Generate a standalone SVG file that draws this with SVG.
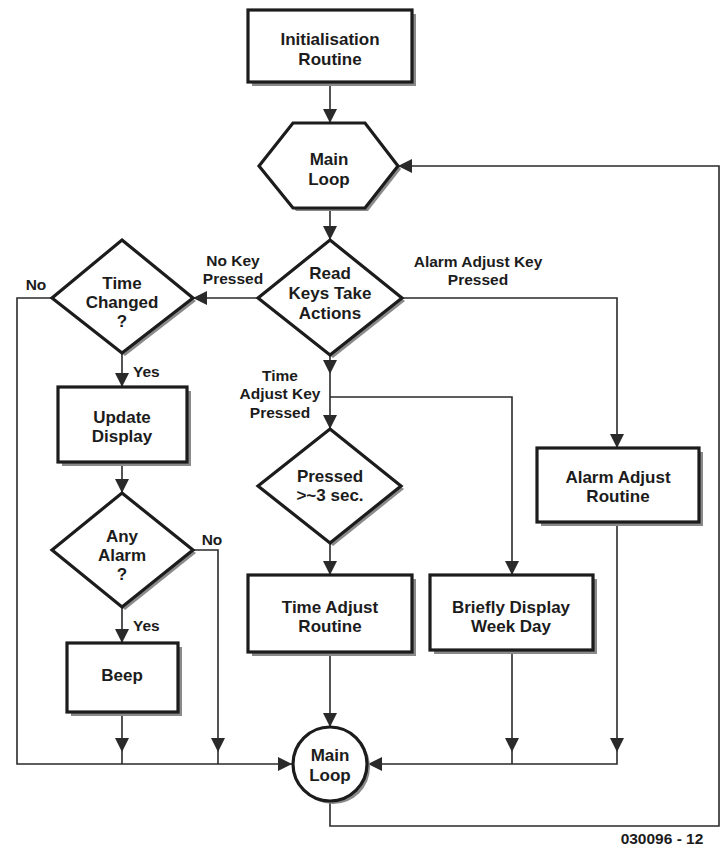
<svg xmlns="http://www.w3.org/2000/svg" width="723" height="847" viewBox="0 0 723 847">
<style>
.shape{fill:#fff;stroke:#1c1c1c;stroke-width:3.2;stroke-linejoin:miter}
.shadow{fill:#8a8a8a;stroke:none}
.t{font-family:"Liberation Sans",Arial,sans-serif;font-weight:bold;font-size:17px;fill:#1c1c1c;text-anchor:middle}
.lbl{font-family:"Liberation Sans",Arial,sans-serif;font-weight:bold;font-size:15.5px;fill:#1c1c1c}
.c{fill:none;stroke:#2a2a2a;stroke-width:1.6}
</style>
<defs>
<marker id="ah" viewBox="0 0 14 14" markerUnits="userSpaceOnUse" markerWidth="14" markerHeight="14" refX="14" refY="7" orient="auto">
<path d="M0,0 L14,7 L0,14 z" fill="#2a2a2a"/>
</marker>
</defs>
<rect width="723" height="847" fill="#fff"/>

<g id="connectors">
<path class="c" d="M330,84 V123" marker-end="url(#ah)"/>
<path class="c" d="M330,210 V240" marker-end="url(#ah)"/>
<path class="c" d="M258,298 H193" marker-end="url(#ah)"/>
<path class="c" d="M52,298 H17 V764 H292" marker-end="url(#ah)"/>
<path class="c" d="M122,354 V387" marker-end="url(#ah)"/>
<path class="c" d="M122,463 V493" marker-end="url(#ah)"/>
<path class="c" d="M193,550 H218 V752" marker-end="url(#ah)"/>
<path class="c" d="M218,752 V764"/>
<path class="c" d="M122,608 V643" marker-end="url(#ah)"/>
<path class="c" d="M122,713 V752" marker-end="url(#ah)"/>
<path class="c" d="M122,752 V764"/>
<path class="c" d="M330,356 V374" marker-end="url(#ah)"/>
<path class="c" d="M330,374 V429" marker-end="url(#ah)"/>
<path class="c" d="M330,397 H512 V575" marker-end="url(#ah)"/>
<path class="c" d="M330,544 V575" marker-end="url(#ah)"/>
<path class="c" d="M330,653 V727" marker-end="url(#ah)"/>
<path class="c" d="M512,652 V752" marker-end="url(#ah)"/>
<path class="c" d="M617,752 V764 H368" marker-end="url(#ah)"/>
<path class="c" d="M512,752 V764"/>
<path class="c" d="M402,298 H617 V448" marker-end="url(#ah)"/>
<path class="c" d="M617,524 V752" marker-end="url(#ah)"/>
<path class="c" d="M330,802 V826 H719 V166 H398" marker-end="url(#ah)"/>
</g>

<g id="init">
<rect class="shadow" x="252" y="14" width="164" height="72"/>
<rect class="shape" x="248" y="10" width="164" height="72"/>
<text class="t" x="330" y="45">Initialisation</text>
<text class="t" x="330" y="65">Routine</text>
</g>

<g id="mainloop-top">
<path class="shadow" d="M296,126 H368 L401,169 L368,211 H296 L262,169 Z"/>
<path class="shape" d="M293,123 H365 L398,166 L365,208 H293 L259,166 Z"/>
<text class="t" x="329" y="165">Main</text>
<text class="t" x="329" y="185">Loop</text>
</g>

<g id="readkeys">
<path class="shadow" d="M333,243 L405,301 L333,358 L261,301 Z"/>
<path class="shape" d="M330,240 L402,298 L330,355 L258,298 Z"/>
<text class="t" x="330" y="279">Read</text>
<text class="t" x="330" y="299">Keys Take</text>
<text class="t" x="330" y="319">Actions</text>
</g>

<g id="timechanged">
<path class="shadow" d="M125,243 L196,301 L125,356 L55,301 Z"/>
<path class="shape" d="M122,240 L193,298 L122,353 L52,298 Z"/>
<text class="t" x="122" y="289">Time</text>
<text class="t" x="122" y="308">Changed</text>
<text class="t" x="122" y="327">?</text>
</g>

<g id="update">
<rect class="shadow" x="62" y="391" width="129" height="75"/>
<rect class="shape" x="58" y="387" width="129" height="75"/>
<text class="t" x="122" y="423">Update</text>
<text class="t" x="122" y="442">Display</text>
</g>

<g id="anyalarm">
<path class="shadow" d="M125,496 L196,553 L125,610 L55,553 Z"/>
<path class="shape" d="M122,493 L193,550 L122,607 L52,550 Z"/>
<text class="t" x="122" y="542">Any</text>
<text class="t" x="122" y="561">Alarm</text>
<text class="t" x="122" y="580">?</text>
</g>

<g id="beep">
<rect class="shadow" x="71" y="647" width="111" height="69"/>
<rect class="shape" x="67" y="643" width="111" height="69"/>
<text class="t" x="122" y="681">Beep</text>
</g>

<g id="pressed">
<path class="shadow" d="M333,432 L404,489 L333,546 L261,489 Z"/>
<path class="shape" d="M330,429 L401,486 L330,543 L258,486 Z"/>
<text class="t" x="330" y="482">Pressed</text>
<text class="t" x="330" y="501">&gt;~3 sec.</text>
</g>

<g id="timeadjust">
<rect class="shadow" x="252" y="579" width="164" height="77"/>
<rect class="shape" x="248" y="575" width="164" height="77"/>
<text class="t" x="330" y="613">Time Adjust</text>
<text class="t" x="330" y="632">Routine</text>
</g>

<g id="briefly">
<rect class="shadow" x="434" y="579" width="163" height="75"/>
<rect class="shape" x="430" y="575" width="163" height="75"/>
<text class="t" x="511" y="613">Briefly Display</text>
<text class="t" x="511" y="632">Week Day</text>
</g>

<g id="alarmadjust">
<rect class="shadow" x="541" y="452" width="162" height="74"/>
<rect class="shape" x="537" y="448" width="162" height="74"/>
<text class="t" x="618" y="483">Alarm Adjust</text>
<text class="t" x="618" y="502">Routine</text>
</g>

<g id="mainloop-bottom">
<circle class="shadow" cx="333" cy="767" r="37"/>
<circle class="shape" cx="330" cy="764" r="37"/>
<text class="t" x="330" y="761">Main</text>
<text class="t" x="330" y="781">Loop</text>
</g>

<g id="labels">
<text class="lbl" x="36" y="290" text-anchor="middle">No</text>
<text class="lbl" x="233" y="266" text-anchor="middle">No Key</text>
<text class="lbl" x="233" y="284" text-anchor="middle">Pressed</text>
<text class="lbl" x="478" y="267" text-anchor="middle">Alarm Adjust Key</text>
<text class="lbl" x="478" y="285" text-anchor="middle">Pressed</text>
<text class="lbl" x="133" y="377">Yes</text>
<text class="lbl" x="133" y="631">Yes</text>
<text class="lbl" x="212" y="545" text-anchor="middle">No</text>
<text class="lbl" x="280" y="381" text-anchor="middle">Time</text>
<text class="lbl" x="280" y="399" text-anchor="middle">Adjust Key</text>
<text class="lbl" x="280" y="418" text-anchor="middle">Pressed</text>
<text class="lbl" x="662" y="844" text-anchor="middle" font-size="14">030096 - 12</text>
</g>
</svg>
